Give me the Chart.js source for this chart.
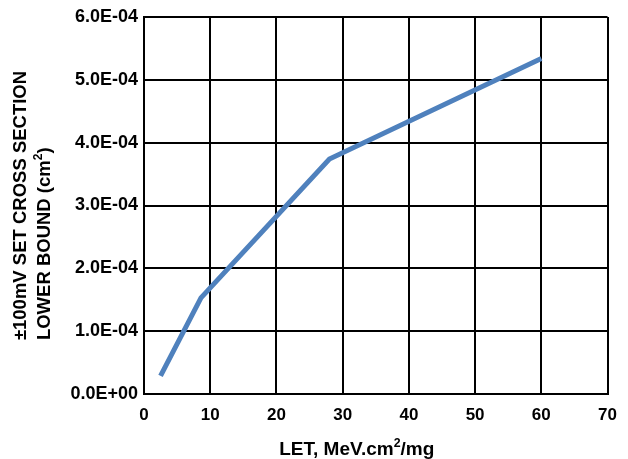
<!DOCTYPE html>
<html>
<head>
<meta charset="utf-8">
<script src="https://cdn.jsdelivr.net/npm/chart.js@4"></script>
<style>
  html, body { margin: 0; padding: 0; background: #fff; }
  #wrap { width: 628px; height: 459px; }
</style>
</head>
<body>
<div id="wrap"><canvas id="set-cross-section"></canvas></div>
<script>
const Chart = window.Chart;

// LET values (MeV.cm2/mg) and lower bound cross section (cm2)
const letValues = [2.5, 8.6, 28, 60];
const crossSection = [2.9e-5, 1.53e-4, 3.74e-4, 5.34e-4];

// axis titles, split so the "2" can be drawn as a superscript
const xTitle = [['LET, MeV.cm', false], ['2', true], ['/mg', false]];
const yTitleLine1 = [['\u00B1100mV SET CROSS SECTION', false]];
const yTitleLine2 = [['LOWER BOUND (cm', false], ['2', true], [')', false]];

const fontFamily = '"Liberation Sans", Arial, sans-serif';

// format like 6.0E-04
function sciLabel(value) {
    let s = Number(value).toExponential(1).toUpperCase();
    return s.replace(/E([+-])(\d)$/, 'E$10$2');
}

//width of a title made of normal and superscript parts
function partsWidth(ctx, parts, size) {
    let w = 0;
    parts.forEach(p => {
        ctx.font = 'bold ' + (p[1] ? size * 0.65 : size) + 'px ' + fontFamily;
        w += ctx.measureText(p[0]).width;
    });
    return w;
}

function drawParts(ctx, parts, x, y, size) {
    parts.forEach(p => {
        ctx.font = 'bold ' + (p[1] ? size * 0.65 : size) + 'px ' + fontFamily;
        ctx.fillText(p[0], x, p[1] ? y - size * 0.42 : y);
        x += ctx.measureText(p[0]).width;
    });
}

//draws the axis titles like the original (y title lines left aligned as a block)
const axisTitles = {
    id: 'axisTitles',
    afterDraw(chart) {
        const ctx = chart.ctx;
        const area = chart.chartArea;
        ctx.save();
        ctx.fillStyle = '#000';
        ctx.textAlign = 'left';
        ctx.textBaseline = 'alphabetic';

        // x title
        const xSize = 19;
        const xw = partsWidth(ctx, xTitle, xSize);
        const xc = (area.left + area.right) / 2 - 19;
        drawParts(ctx, xTitle, xc - xw / 2, area.bottom + 61, xSize);

        // y title, rotated
        const ySize = 18.5;
        const w1 = partsWidth(ctx, yTitleLine1, ySize);
        const yc = (area.top + area.bottom) / 2;
        ctx.translate(0, yc);
        ctx.rotate(-Math.PI / 2);
        drawParts(ctx, yTitleLine1, -w1 / 2, 26, ySize);
        drawParts(ctx, yTitleLine2, -w1 / 2, 50, ySize);
        ctx.restore();
    }
};

const points = letValues.map((x, i) => ({ x: x, y: crossSection[i] }));

const canvas = document.getElementById('set-cross-section');

const chart = new Chart(canvas, {
    type: 'line',
    data: {
        datasets: [{
            data: points,
            borderColor: 'rgb(79, 129, 189)',
            borderWidth: 5,
            pointRadius: 0,
            fill: false,
            tension: 0
        }]
    },
    options: {
        responsive: true,
        maintainAspectRatio: false,
        animation: false,
        layout: {
            padding: { top: 17, right: 12, left: 0, bottom: 0 }
        },
        plugins: {
            legend: { display: false },
            tooltip: { enabled: false }
        },
        scales: {
            x: {
                type: 'linear',
                min: 0,
                max: 70,
                ticks: {
                    stepSize: 10,
                    padding: 11,
                    color: '#000',
                    font: { family: fontFamily, size: 17, weight: 'bold' }
                },
                grid: { color: '#000', lineWidth: 2, drawTicks: false },
                border: { color: '#000', width: 2 },
                afterFit: function(scale) { scale.height = 65; }
            },
            y: {
                min: 0,
                max: 6e-4,
                ticks: {
                    stepSize: 1e-4,
                    padding: 6,
                    color: '#000',
                    font: { family: fontFamily, size: 18, weight: 'bold' },
                    callback: function(value) { return sciLabel(value); }
                },
                grid: { color: '#000', lineWidth: 2, drawTicks: false },
                border: { color: '#000', width: 2 },
                afterFit: function(scale) { scale.width = 144; }
            }
        }
    },
    plugins: [axisTitles]
});
</script>
</body>
</html>
